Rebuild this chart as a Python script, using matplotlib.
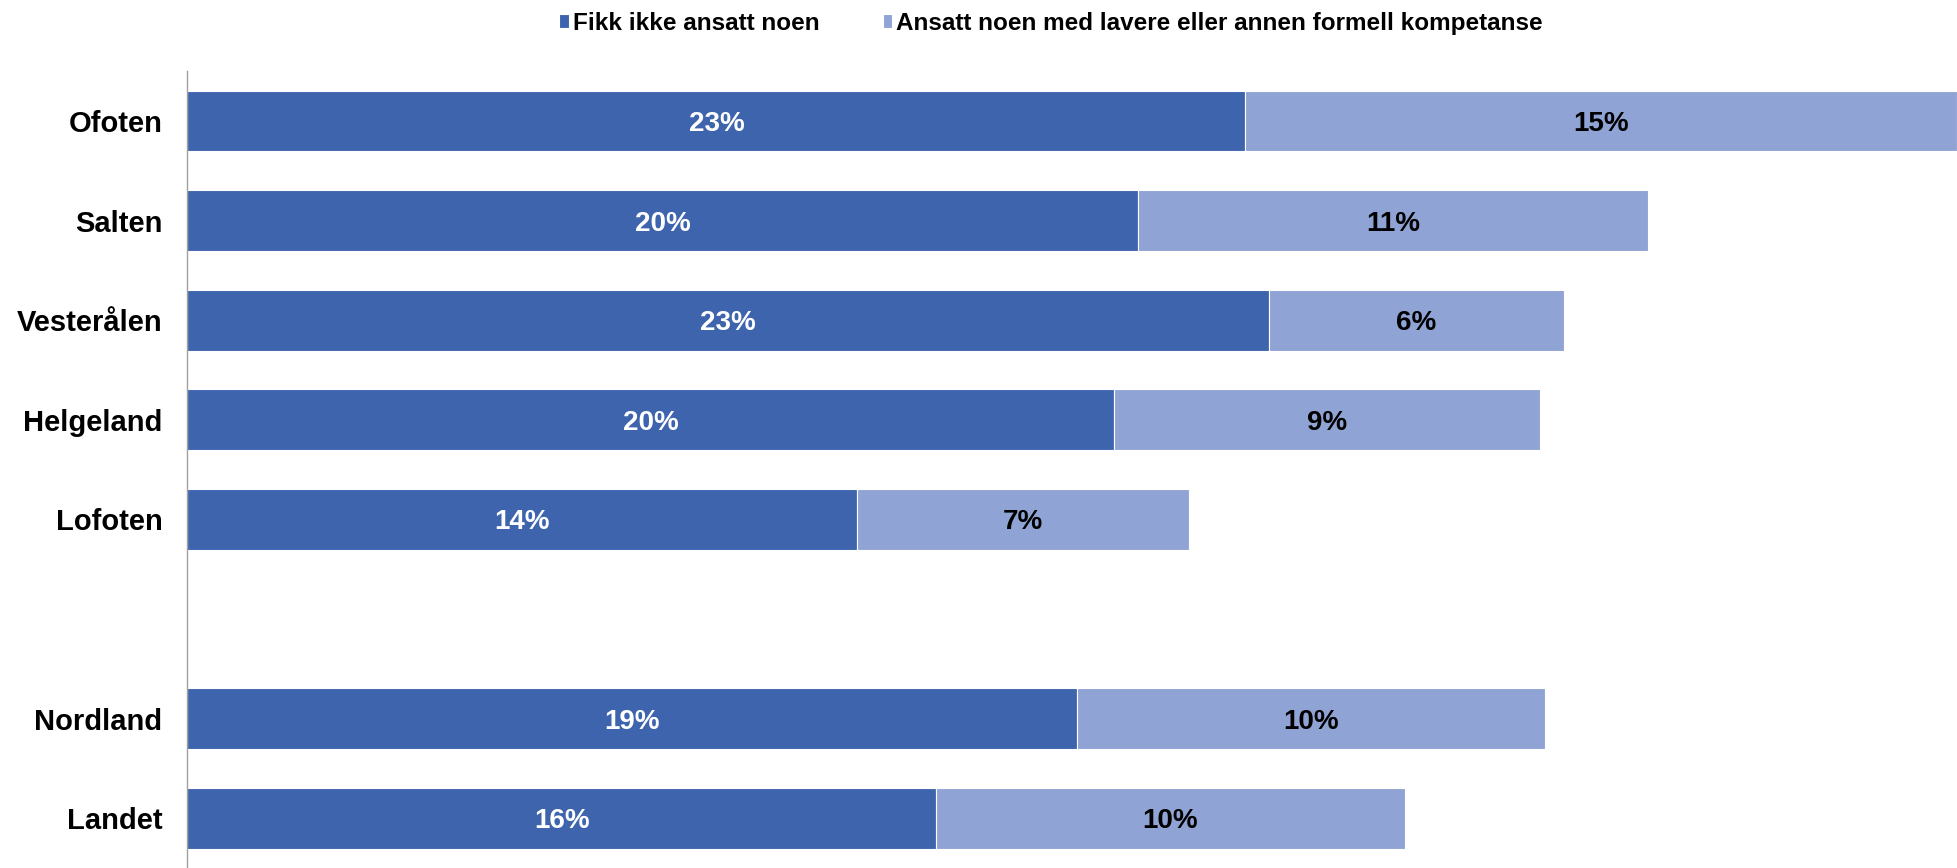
import matplotlib
matplotlib.use("Agg")
from matplotlib import pyplot as plt

plt.rcParams['font.family'] = ['Liberation Sans', 'DejaVu Sans']

# values, percent
regions = ["Ofoten", "Salten", "Vesterålen", "Helgeland", "Lofoten", "", "Nordland", "Landet"]
not_hired = [22.6, 20.3, 23.1, 19.8, 14.3, None, 19.0, 16.0]
lower_comp = [15.2, 10.9, 6.3, 9.1, 7.1, None, 10.0, 10.0]
series_names = ["Fikk ikke ansatt noen", "Ansatt noen med lavere eller annen formell kompetanse"]
dark, light = "#3E64AD", "#8FA3D4"

fig = plt.figure(figsize=(19.57, 8.68), dpi=100)
ax = fig.add_axes([0.0958, 0.0, 0.9042, 0.918])

pos = [i for i, v in enumerate(not_hired) if v is not None]
a = [not_hired[i] for i in pos]
b = [lower_comp[i] for i in pos]
h = 0.61
bars1 = ax.barh(pos, a, height=h, color=dark, edgecolor="white", linewidth=0.8, label=series_names[0])
bars2 = ax.barh(pos, b, left=a, height=h, color=light, edgecolor="white", linewidth=0.8, label=series_names[1])

# labels sit a touch below the bar centre, as in the original
for rect, v in zip(bars1, a):
    ax.text(rect.get_x() + rect.get_width() / 2, rect.get_y() + h / 2 + 0.03, f"{v:.0f}%",
            ha="center", va="center", color="white", fontsize=20, fontweight="bold")
for rect, v in zip(bars2, b):
    ax.text(rect.get_x() + rect.get_width() / 2, rect.get_y() + h / 2 + 0.03, f"{v:.0f}%",
            ha="center", va="center", color="black", fontsize=20, fontweight="bold")

ax.set_xlim(0, 37.8)
ax.set_ylim(7.5, -0.5)
ax.set_yticks(range(len(regions)))
ax.set_yticklabels(regions, fontsize=21, fontweight="bold")
ax.tick_params(axis="y", length=0, pad=18)
ax.set_xticks([])
for side in ["top", "right", "bottom"]:
    ax.spines[side].set_visible(False)
ax.spines["left"].set_color("#a0a0a0")
ax.spines["left"].set_linewidth(1)

fig.legend(handles=[bars1, bars2], loc="center", bbox_to_anchor=(0.537, 0.973), ncol=2,
           frameon=False, prop={"size": 17.5, "weight": "bold"},
           handlelength=0.4, handleheight=0.5, handletextpad=0.15, columnspacing=2.6)

fig.savefig("out.png", dpi=100)
